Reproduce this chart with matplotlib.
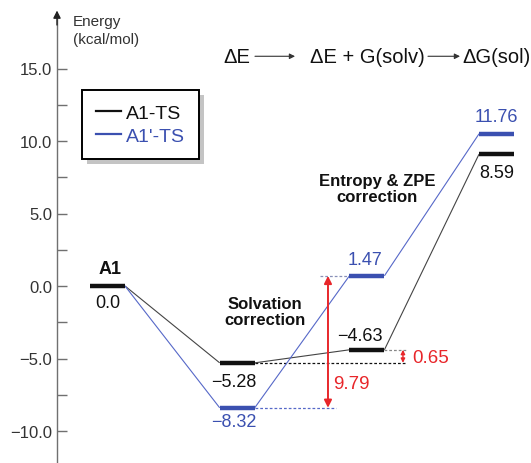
import matplotlib
matplotlib.use('Agg')
import matplotlib.pyplot as plt
from matplotlib.ticker import FixedLocator, FuncFormatter
from matplotlib.lines import Line2D

plt.rcParams['font.family'] = ['Liberation Sans', 'DejaVu Sans']

# ---------------- data ----------------
stages = [0, 1, 2, 3]
stage_titles = ['ΔE', 'ΔE + G(solv)', 'ΔG(sol)']        # headers over stages 1..3
series_names = ['A1-TS', "A1'-TS"]
# level heights as drawn in the picture (kcal/mol)
a1_ts_levels = [0.0, -5.3, -4.4, 9.1]
a1p_ts_levels = [0.0, -8.4, 0.7, 10.5]
# printed energy values
a1_ts_labels = ['0.0', '−5.28', '−4.63', '8.59']
a1p_ts_labels = ['', '−8.32', '1.47', '11.76']
start_label = 'A1'
solvation_gap_label = '9.79'
entropy_gap_label = '0.65'
yticks_major = [-10, -5, 0, 5, 10, 15]
yticks_minor = [-7.5, -2.5, 2.5, 7.5, 12.5]

# ---------------- style ----------------
BLACK = '#111111'
BLUE = '#3b50b0'
BLUE_LINE = '#5668c8'
RED = '#e8262a'
AXIS = '#707070'
HW = 0.135  # half width of a level bar

W, H = 531, 464
fig = plt.figure(figsize=(W / 100, H / 100), dpi=100)
ax = fig.add_axes([57 / W, 0, (W - 57) / W, 1])
ax.set_xlim((57 - 107.5) / 129.7, (W - 107.5) / 129.7)
ax.set_ylim((287 - H) / 14.5, 287 / 14.5)

for s in ['top', 'right', 'bottom']:
    ax.spines[s].set_visible(False)
ax.spines['left'].set_color(AXIS)
ax.spines['left'].set_linewidth(1.0)
ax.spines['left'].set_bounds((287 - H) / 14.5, 18.4)
ax.annotate('', xy=(0, 19.0), xytext=(0, 18.0),
            xycoords=('axes fraction', 'data'),
            arrowprops=dict(arrowstyle='-|>', color='#222222', lw=1.0,
                            mutation_scale=11, shrinkA=0, shrinkB=0))
ax.set_xticks([])
ax.yaxis.set_major_locator(FixedLocator(yticks_major))
ax.yaxis.set_minor_locator(FixedLocator(yticks_minor))
ax.yaxis.set_major_formatter(FuncFormatter(lambda v, p: f'{v:.1f}'.replace('-', '\u2212')))
ax.tick_params(axis='y', which='both', direction='in', length=7.2, width=1.0,
               color=AXIS, labelcolor='#333333', labelsize=12, pad=3.5)

ax.text(-0.266, 18.28, 'Energy', fontsize=11, color='#333333', va='center', ha='left')
ax.text(-0.266, 17.03, '(kcal/mol)', fontsize=11, color='#333333', va='center', ha='left')

# ---------------- connectors ----------------
for levels, col in [(a1_ts_levels, '#444444'), (a1p_ts_levels, BLUE_LINE)]:
    for i in range(len(stages) - 1):
        ax.plot([stages[i] + HW, stages[i + 1] - HW], [levels[i], levels[i + 1]],
                color=col, lw=0.8, solid_capstyle='butt', zorder=2)

# ---------------- dashed guides ----------------
ax.plot([stages[1] + HW, 2.309], [a1_ts_levels[1]] * 2, color=BLACK, lw=0.9, ls=(0, (2.2, 1.6)), zorder=1)
ax.plot([stages[2] + HW, 2.309], [a1_ts_levels[2]] * 2, color='#888888', lw=0.9, ls=(0, (2.2, 1.6)), zorder=1)
ax.plot([stages[1] + HW, 1.762], [a1p_ts_levels[1]] * 2, color=BLUE_LINE, lw=0.9, ls=(0, (2.2, 1.6)), zorder=1)
ax.plot([1.638, stages[2] - HW], [a1p_ts_levels[2]] * 2, color='#8890b8', lw=0.9, ls=(0, (2.2, 1.6)), zorder=1)

# ---------------- level bars ----------------
for levels, col in [(a1p_ts_levels, BLUE), (a1_ts_levels, BLACK)]:
    for i, s in enumerate(stages):
        if i == 0 and col == BLUE:
            continue
        ax.plot([s - HW, s + HW], [levels[i], levels[i]], color=col, lw=3.2,
                solid_capstyle='butt', zorder=3)

# ---------------- value labels ----------------
lab_kw = dict(fontsize=13, ha='center', va='center')
ax.text(0.019, 1.24, start_label, fontweight='bold', color=BLACK, **lab_kw)
ax.text(0.0, -1.17, a1_ts_labels[0], color=BLACK, **lab_kw)
ax.text(0.975, -6.62, a1_ts_labels[1], color=BLACK, **lab_kw)
ax.text(0.975, -9.35, a1p_ts_labels[1], color=BLUE, **lab_kw)
ax.text(1.947, -3.38, a1_ts_labels[2], color=BLACK, **lab_kw)
ax.text(1.985, 1.86, a1p_ts_labels[2], color=BLUE, **lab_kw)
ax.text(3.002, 11.66, a1p_ts_labels[3], color=BLUE, **lab_kw)
ax.text(3.002, 7.86, a1_ts_labels[3], color=BLACK, **lab_kw)

# ---------------- red gap arrows ----------------
ax.annotate('', xy=(1.700, a1p_ts_levels[2]), xytext=(1.700, a1p_ts_levels[1]),
            arrowprops=dict(arrowstyle='<|-|>', color=RED, lw=1.4, mutation_scale=11,
                            shrinkA=0, shrinkB=0), zorder=4)
ax.text(1.738, -6.69, solvation_gap_label, color=RED, fontsize=13.5, ha='left', va='center')
ax.annotate('', xy=(2.278, a1_ts_levels[2]), xytext=(2.278, a1_ts_levels[1]),
            arrowprops=dict(arrowstyle='<|-|>', color=RED, lw=1.0, mutation_scale=6,
                            shrinkA=0, shrinkB=0), zorder=4)
ax.text(2.348, -4.9, entropy_gap_label, color=RED, fontsize=13.5, ha='left', va='center')

# ---------------- annotations ----------------
ax.text(1.214, -1.76, 'Solvation\ncorrection', fontsize=12, fontweight='bold',
        ha='center', va='center', linespacing=1.1, color=BLACK)
ax.text(2.078, 6.72, 'Entropy & ZPE\ncorrection', fontsize=12, fontweight='bold',
        ha='center', va='center', linespacing=1.1, color=BLACK)

# ---------------- stage headers ----------------
hy = (287 - 58) / 14.5
for s, t in zip(stages[1:], stage_titles):
    ax.text(s, hy, t, fontsize=14.5, ha='center', va='center', color=BLACK)
for x0, x1 in [(1.137, 1.446), (2.471, 2.718)]:
    ax.annotate('', xy=(x1, hy + 0.05), xytext=(x0, hy + 0.05),
                arrowprops=dict(arrowstyle='-|>', color='#333333', lw=0.8,
                                mutation_scale=8, shrinkA=0, shrinkB=0))

# ---------------- legend ----------------
handles = [Line2D([], [], color=BLACK, lw=1.6), Line2D([], [], color=BLUE, lw=1.6)]
leg = ax.legend(handles, series_names, loc='upper left',
                bbox_to_anchor=(82 / W, 1 - 91 / H), bbox_transform=fig.transFigure,
                borderaxespad=0, frameon=True, fancybox=False, edgecolor='black',
                framealpha=1, fontsize=14, handlelength=1.3, handletextpad=0.25,
                labelspacing=0.3, borderpad=0.72, labelcolor='linecolor',
                shadow={'ox': 3.6, 'oy': -3.6, 'facecolor': '#c4c4c4',
                        'edgecolor': 'none', 'alpha': 1})
leg.get_frame().set_linewidth(1.4)

fig.savefig('out.png', dpi=100)
